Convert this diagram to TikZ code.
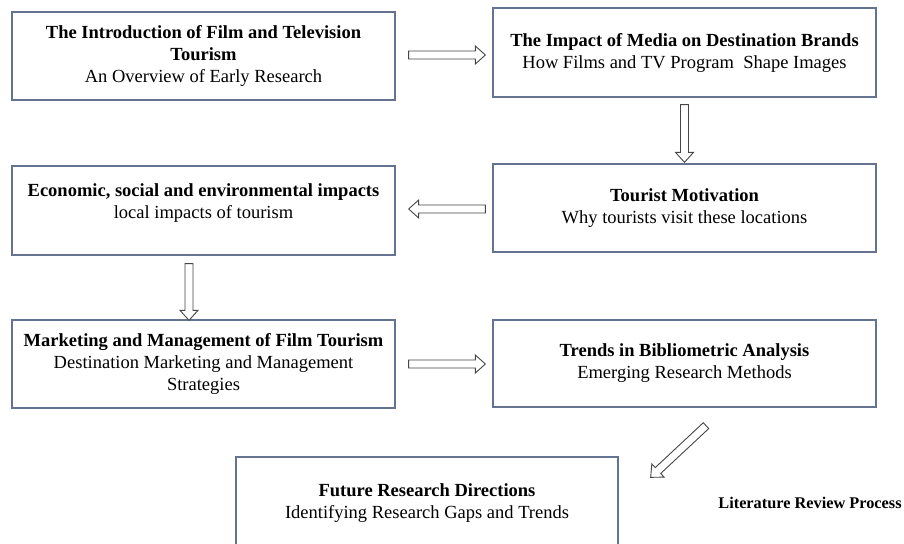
\documentclass[tikz,border=0pt]{standalone}
\usepackage{fontspec}
\setmainfont{Liberation Serif}
\usetikzlibrary{calc}
\definecolor{boxline}{RGB}{100,115,145}
\definecolor{arrline}{RGB}{70,70,70}
\tikzset{
  box/.style={draw=boxline, line width=1.3pt, fill=white, minimum width=383pt, minimum height=88pt, inner sep=0pt, align=center, font=\fontsize{18.5}{22}\selectfont},
  txt/.style={inner sep=0pt, align=center, font=\fontsize{18.5}{22}\selectfont},
  barrow/.style={draw=arrline, line width=0.9pt, fill=white, line join=miter},
}
\newcommand{\blockarr}[3]{%
  \coordinate (#3h) at ($(#2)!10pt!(#1)$);
  \draw[barrow] ($(#1)!4pt!90:(#2)$) -- ($(#3h)!4pt!90:(#2)$) -- ($(#3h)!9pt!90:(#2)$) -- (#2)
    -- ($(#3h)!9pt!-90:(#2)$) -- ($(#3h)!4pt!-90:(#2)$) -- ($(#1)!4pt!-90:(#2)$) -- cycle;}
\begin{document}
\begin{tikzpicture}[x=1pt,y=-1pt]
\useasboundingbox (0,0) rectangle (904,543);
\clip (0,0) rectangle (904,543);
\fill[white] (0,0) rectangle (904,543);

\node[box] (A) at (203.5,56) {\textbf{The Introduction of Film and Television}\\\textbf{Tourism}\\An Overview of Early Research};
\node[box, minimum height=89pt] (B) at (684.5,52.5) {\textbf{The Impact of Media on Destination Brands}\\How Films and TV Program\ \ Shape Images};
\node[box] (C) at (684.5,208) {\textbf{Tourist Motivation}\\Why tourists visit these locations};
\node[box, minimum height=89pt] (D) at (203.5,210.5) {};
\node[txt] (Dt) at (203.5,203) {\textbf{Economic, social and environmental impacts}\\local impacts of tourism};
\node[box] (E) at (203.5,364) {\textbf{Marketing and Management of Film Tourism}\\Destination Marketing and Management\\Strategies};
\node[box, minimum height=87pt] (F) at (684.5,363.5) {\textbf{Trends in Bibliometric Analysis}\\Emerging Research Methods};
\node[box, minimum width=382pt, minimum height=93pt] (G) at (427,503.5) {\textbf{Future Research Directions}\\Identifying Research Gaps and Trends};
\node[inner sep=0pt, font=\fontsize{16.3}{19}\selectfont\bfseries] (L) at (810,503) {Literature Review Process};

\coordinate (ab1) at ($(A.east)+(13,-1)$);
\coordinate (ab2) at ($(B.west)+(-7,2.5)$);
\blockarr{ab1}{ab2}{ab}
\coordinate (bc1) at ($(B.south)+(0,7)$);
\coordinate (bc2) at ($(C.north)+(0,-1)$);
\blockarr{bc1}{bc2}{bc}
\coordinate (cd1) at ($(C.west)+(-7,1)$);
\coordinate (cd2) at ($(D.east)+(13,-1.5)$);
\blockarr{cd1}{cd2}{cd}
\coordinate (de1) at ($(D.south)+(-14.5,8)$);
\coordinate (de2) at ($(E.north)+(-14.5,1)$);
\blockarr{de1}{de2}{de}
\coordinate (ef1) at ($(E.east)+(13,0)$);
\coordinate (ef2) at ($(F.west)+(-7,0.5)$);
\blockarr{ef1}{ef2}{ef}
\coordinate (fg1) at ($(F.south)+(21.5,18)$);
\coordinate (fg2) at ($(G.north east)+(32,21)$);
\blockarr{fg1}{fg2}{fg}
\end{tikzpicture}
\end{document}
